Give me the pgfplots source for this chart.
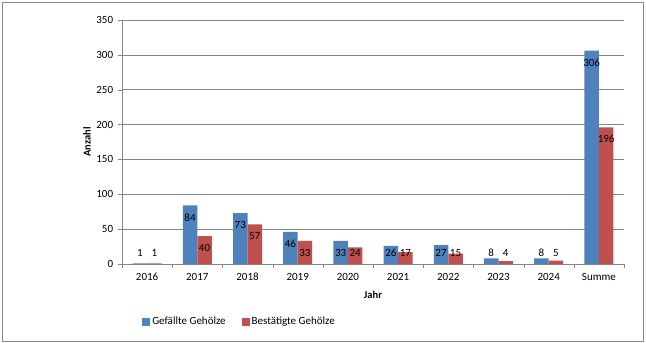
\documentclass[border=0pt]{standalone}
\usepackage{fontspec}
\setmainfont{Carlito}
\usepackage{pgfplots}
\usepackage{pgfplotstable}
\pgfplotsset{compat=1.18}
\definecolor{cblue}{HTML}{4F81BD}
\definecolor{cred}{HTML}{C0504D}
\definecolor{cgrid}{HTML}{868686}
\pgfplotstableread{
x g b
0 1 1
1 84 40
2 73 57
3 46 33
4 33 24
5 26 17
6 27 15
7 8 4
8 8 5
9 306 196
}\data
\begin{document}
\fontsize{11}{13}\selectfont
\begin{tikzpicture}[x=1pt,y=1pt]
\path[use as bounding box] (0,0) rectangle (646,343);
\draw[cgrid,line width=0.8pt] (2,2) rectangle (643,341);
\begin{axis}[
  at={(122pt,79pt)}, anchor=south west,
  scale only axis, width=502pt, height=244pt,
  xmin=-0.5, xmax=9.5, ymin=0, ymax=350,
  axis x line*=bottom, axis y line*=left,
  axis line style={cgrid, -},
  xtick={-0.5,0.5,...,9.5},
  x tick label as interval,
  xticklabels={2016,2017,2018,2019,2020,2021,2022,2023,2024,Summe},
  ytick={0,50,...,350},
  tick align=outside, major tick length=4pt,
  tick style={cgrid},
  ymajorgrids, grid style={cgrid, line width=0.6pt},
  /pgf/number format/assume math mode=true,
  ticklabel style={font=\fontsize{11}{13}\selectfont},
  yticklabel style={xshift=-1pt},
  xticklabel style={yshift=-1pt},
  xlabel={\textbf{Jahr}}, ylabel={\textbf{Anzahl}},
  label style={font=\fontsize{10.5}{13}\selectfont},
  xlabel style={at={(axis description cs:0.5,-0.127)}, anchor=center},
  ylabel style={at={(axis description cs:-0.07,0.5)}, anchor=center},
  legend columns=2,
  legend style={draw=none, fill=none, at={(axis description cs:0.034,-0.2377)}, anchor=west,
    font=\fontsize{11}{13}\selectfont,
    /tikz/every even column/.append style={column sep=14pt}},
  legend cell align=left,
  legend image code/.code={\fill[#1] (0pt,-4pt) rectangle (8pt,4pt);},
]
\addplot[ybar, bar width=14.5pt, bar shift=-7.25pt, fill=cblue, draw=none] table[x=x,y=g]{\data};
\addlegendentry{Gefällte Gehölze}
\addplot[ybar, bar width=14.5pt, bar shift=7.25pt, fill=cred, draw=none] table[x=x,y=b]{\data};
\addlegendentry{Bestätigte Gehölze}
\addplot[forget plot, only marks, mark=*, mark size=0pt, mark options={draw=none,fill=none},
  point meta=explicit, nodes near coords,
  every node near coord/.append style={anchor=center, xshift=-7.25pt, inner sep=0pt, font=\fontsize{11}{13}\selectfont}]
  table[x=x, y expr={max(\thisrow{g}-17,16)}, meta=g]{\data};
\addplot[forget plot, only marks, mark=*, mark size=0pt, mark options={draw=none,fill=none},
  point meta=explicit, nodes near coords,
  every node near coord/.append style={anchor=center, xshift=7.25pt, inner sep=0pt, font=\fontsize{11}{13}\selectfont}]
  table[x=x, y expr={max(\thisrow{b}-17,16)}, meta=b]{\data};
\end{axis}
\end{tikzpicture}
\end{document}
